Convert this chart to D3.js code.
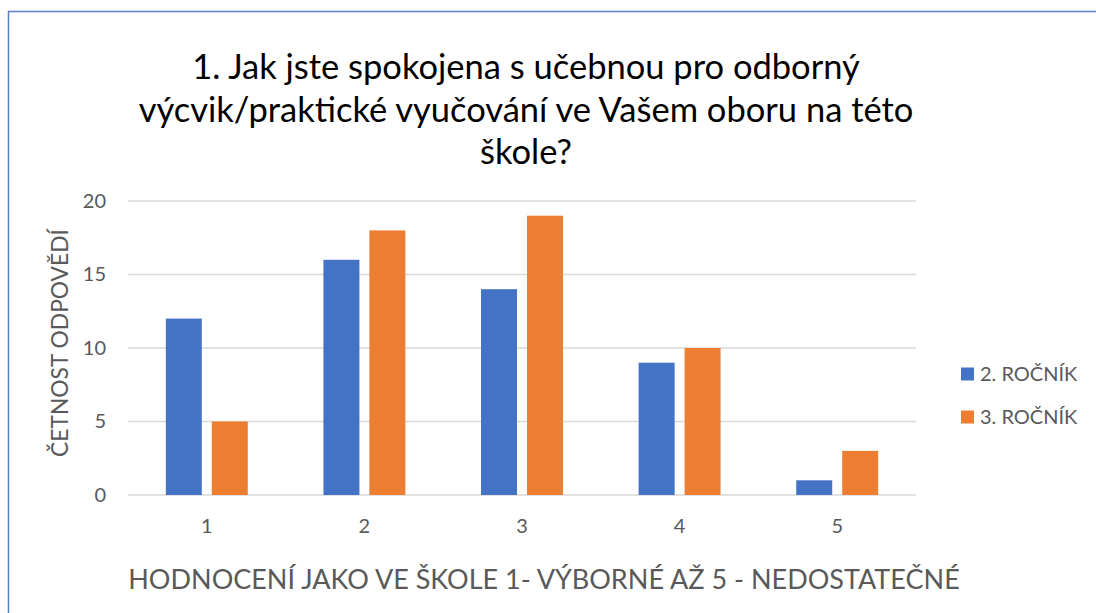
<!DOCTYPE html>
<html><head><meta charset="utf-8">
<script src="https://cdn.jsdelivr.net/npm/d3@7"></script>
<style>body{margin:0;background:#fff;}svg{display:block;}text{font-family:Lato,"Open Sans",sans-serif;}</style>
</head><body><svg id="c" width="1096" height="613"></svg>
<script>
const categories = ["1","2","3","4","5"];
const seriesNames = ["2. ROČNÍK","3. ROČNÍK"];
const rocnik2 = [12,16,14,9,1];
const rocnik3 = [5,18,19,10,3];
const yTicks = [0,5,10,15,20];
const titleLines = ["1. Jak jste spokojena s učebnou pro odborný","výcvik/praktické vyučování ve Vašem oboru na této","škole?"];
const yTitle = "ČETNOST ODPOVĚDÍ";
const xTitle = "HODNOCENÍ JAKO VE ŠKOLE 1- VÝBORNÉ AŽ 5 - NEDOSTATEČNÉ";
const colors = ["#4472C4","#ED7D31"];

(function(){
const svg = d3.select("#c");
const pL=128, pR=916, pT=201, pB=495;
svg.append("path").attr("d","M8.5,613 V11.5 H1096").attr("fill","none").attr("stroke","#5B81C9").attr("stroke-width",1.5);

const y = d3.scaleLinear().domain([0,20]).range([pB,pT]);
const x0 = d3.scaleBand().domain(categories).range([pL,pR]).paddingInner(0.48).paddingOuter(0.24);
const x1 = d3.scaleBand().domain([0,1]).range([0,x0.bandwidth()]).paddingInner(0.217);

const grid = svg.append("g");
grid.selectAll("line").data(yTicks).join("line")
  .attr("x1",pL).attr("x2",pR).attr("y1",d=>y(d)).attr("y2",d=>y(d))
  .attr("stroke","#d9d9d9").attr("stroke-width",1.5);

const yAxis = svg.append("g").attr("transform",`translate(${pL},0)`).call(d3.axisLeft(y).tickValues(yTicks).tickSize(0).tickPadding(22));
yAxis.select(".domain").remove();
yAxis.selectAll("text").attr("font-size",20).attr("fill","#595959").attr("font-family","Lato");

const xAxis = svg.append("g").attr("transform",`translate(0,${pB})`).call(d3.axisBottom(x0).tickSize(0).tickPadding(24));
xAxis.select(".domain").remove();
xAxis.selectAll("text").attr("font-size",20).attr("fill","#595959").attr("font-family","Lato");

const series=[rocnik2,rocnik3];
series.forEach((vals,si)=>{
  svg.append("g").selectAll("rect").data(vals).join("rect")
    .attr("x",(d,i)=>x0(categories[i])+x1(si)).attr("width",x1.bandwidth())
    .attr("y",d=>y(d)).attr("height",d=>y(0)-y(d)).attr("fill",colors[si]);
});

const t = svg.append("text").attr("text-anchor","middle").attr("font-size",34.5).attr("fill","#000");
titleLines.forEach((l,i)=>t.append("tspan").attr("x",526).attr("y",79+i*42.5).text(l));

svg.append("text").attr("transform","translate(68,343) rotate(-90)").attr("text-anchor","middle")
  .attr("font-size",22.8).attr("fill","#595959").text(yTitle);
svg.append("text").attr("x",544).attr("y",589).attr("text-anchor","middle")
  .attr("font-size",27).attr("fill","#595959").text(xTitle);

const lg = svg.append("g");
seriesNames.forEach((n,i)=>{
  const yy = 374+i*43;
  lg.append("rect").attr("x",961).attr("y",yy-6.5).attr("width",13).attr("height",13).attr("fill",colors[i]);
  lg.append("text").attr("x",980).attr("y",yy).attr("dy","0.35em").attr("font-size",20).attr("fill","#595959").text(n);
});
})();
</script></body></html>
